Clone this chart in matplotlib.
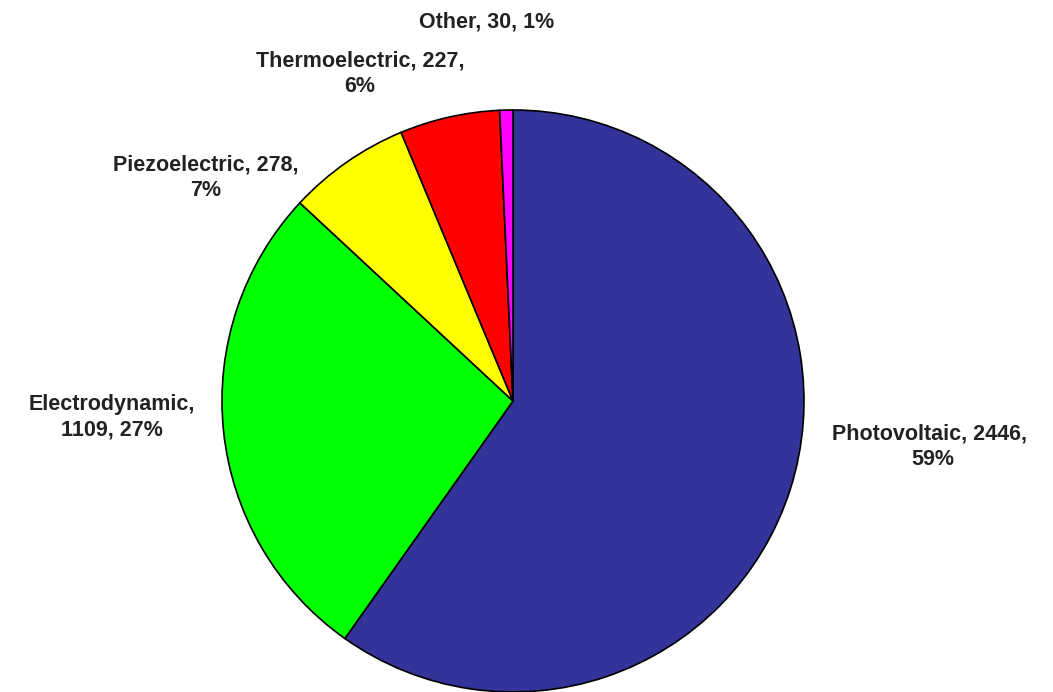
import matplotlib.pyplot as plt

# energy harvesting sources, counts and shares as printed on the chart
sources = ['Photovoltaic', 'Electrodynamic', 'Piezoelectric', 'Thermoelectric', 'Other']
counts = [2446, 1109, 278, 227, 30]
shares = ['59%', '27%', '7%', '6%', '1%']
colours = ['#333399', '#00ff00', '#ffff00', '#ff0000', '#ff00ff']

# label text layout (line breaks as in the original)
label_text = [
    'Photovoltaic, {}, \n{}',
    'Electrodynamic,\n{}, {}',
    'Piezoelectric, {},\n{}',
    'Thermoelectric, {},\n{}',
    'Other, {}, {}',
]
# label centres in pixels (x, y from top)
label_pos = [(933, 447), (112, 417), (206, 178), (360, 74), (487, 22)]

W, H = 1053, 692
fig = plt.figure(figsize=(W / 100, H / 100), dpi=100)
ax = fig.add_axes([0, 0, 1, 1])

ax.pie(counts, colors=colours, startangle=90, counterclock=False,
       center=(513, H - 401), radius=291,
       wedgeprops={'edgecolor': 'black', 'linewidth': 1.2})

# pie() sets its own limits, so put the pixel frame back afterwards
ax.set_xlim(0, W)
ax.set_ylim(0, H)
ax.set_aspect('equal')
ax.axis('off')

for name, fmt, n, s, (x, y) in zip(sources, label_text, counts, shares, label_pos):
    ax.text(x, H - y, fmt.format(n, s), ha='center', va='center',
            fontsize=15.5, fontweight='bold', family='Liberation Sans',
            color='#222222', linespacing=1.3)

fig.savefig('out.png', dpi=100)
